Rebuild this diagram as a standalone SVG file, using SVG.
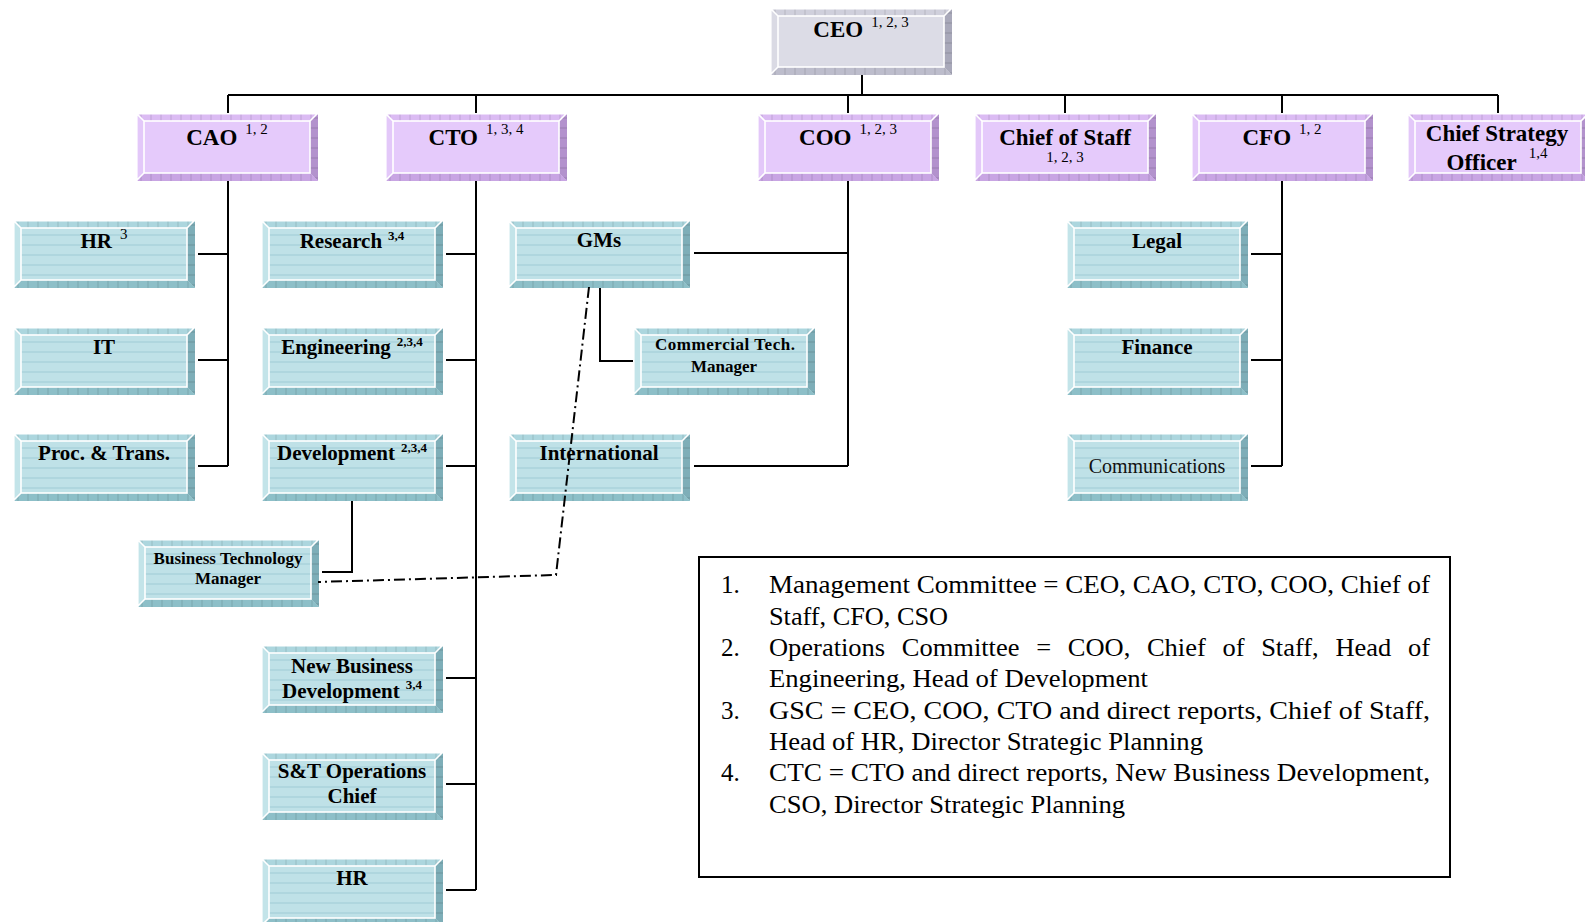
<svg xmlns="http://www.w3.org/2000/svg" xmlns:xlink="http://www.w3.org/1999/xlink" width="1585" height="922" viewBox="0 0 1585 922">
<style>
  .t1 { font-family: "Liberation Serif", "Times New Roman", serif; font-weight: bold; font-size: 23px; fill: #000; }
  .t2 { font-family: "Liberation Serif", "Times New Roman", serif; font-weight: bold; font-size: 21px; fill: #000; }
  .t3 { font-family: "Liberation Serif", "Times New Roman", serif; font-weight: bold; font-size: 17px; fill: #000; }
  .tr { font-family: "Liberation Serif", "Times New Roman", serif; font-size: 20px; fill: #111; }
  .s1 { font-weight: normal; font-size: 15px; }
  .s2 { font-weight: bold; font-size: 13px; }
  .lg { font-family: "Liberation Serif", "Times New Roman", serif; font-size: 25px; fill: #000; }
  .conn { stroke: #000; stroke-width: 2; fill: none; }
  .dd { stroke: #000; stroke-width: 2; fill: none; stroke-dasharray: 11 4 2 4; }
  .hl { stroke: #fff; stroke-width: 1.6; fill: none; }
</style>
<defs>
  <pattern id="stripes" patternUnits="userSpaceOnUse" width="10" height="10">
    <rect width="10" height="10" fill="#bfe1e7"/>
    <line x1="0" y1="5" x2="10" y2="5" stroke="#9fcbd5" stroke-width="1"/>
  </pattern>
  <pattern id="vt" patternUnits="userSpaceOnUse" width="10" height="10">
    <line x1="5" y1="0" x2="5" y2="10" stroke="#000" stroke-opacity="0.12" stroke-width="1"/>
  </pattern>
  <pattern id="ht" patternUnits="userSpaceOnUse" width="10" height="10">
    <line x1="0" y1="5" x2="10" y2="5" stroke="#000" stroke-opacity="0.15" stroke-width="1"/>
  </pattern>
  <g id="box-teal">
    <rect width="182" height="68" fill="#bfe1e7"/>
    <rect x="8" y="8" width="166" height="52" fill="url(#stripes)"/>
    <polygon points="0,0 182,0 174,8 8,8" fill="#acd6de"/>
    <polygon points="0,0 182,0 174,8 8,8" fill="url(#vt)"/>
    <polygon points="0,0 8,8 8,60 0,68" fill="#c3e4e9"/>
    <polygon points="182,0 182,68 174,60 174,8" fill="#7eaeb8"/>
    <polygon points="182,0 182,68 174,60 174,8" fill="url(#ht)"/>
    <polygon points="0,68 8,60 174,60 182,68" fill="#8dbfc8"/>
    <polygon points="0,68 8,60 174,60 182,68" fill="url(#vt)"/>
    <rect x="8" y="8" width="166" height="52" class="hl"/>
    <path d="M0.8,68 V0.8 H182 M0,0 L8,8 M0,68 L8,60 M182,0 L174,8" class="hl"/>
  </g>
  <g id="box-purple">
    <rect width="182" height="68" fill="#e5cafb"/>
    <polygon points="0,0 182,0 174,8 8,8" fill="#dbbbf3"/>
    <polygon points="0,0 182,0 174,8 8,8" fill="url(#vt)"/>
    <polygon points="0,0 8,8 8,60 0,68" fill="#e3c8f9"/>
    <polygon points="182,0 182,68 174,60 174,8" fill="#b392cd"/>
    <polygon points="182,0 182,68 174,60 174,8" fill="url(#ht)"/>
    <polygon points="0,68 8,60 174,60 182,68" fill="#c8a5e3"/>
    <polygon points="0,68 8,60 174,60 182,68" fill="url(#vt)"/>
    <rect x="8" y="8" width="166" height="52" class="hl"/>
    <path d="M0.8,68 V0.8 H182 M0,0 L8,8 M0,68 L8,60 M182,0 L174,8" class="hl"/>
  </g>
  <g id="box-gray">
    <rect width="182" height="67" fill="#dcdce6"/>
    <polygon points="0,0 182,0 174,8 8,8" fill="#d0d0dc"/>
    <polygon points="0,0 182,0 174,8 8,8" fill="url(#vt)"/>
    <polygon points="0,0 8,8 8,59 0,67" fill="#dadae4"/>
    <polygon points="182,0 182,67 174,59 174,8" fill="#a9a9ba"/>
    <polygon points="182,0 182,67 174,59 174,8" fill="url(#ht)"/>
    <polygon points="0,67 8,59 174,59 182,67" fill="#bdbdcc"/>
    <polygon points="0,67 8,59 174,59 182,67" fill="url(#vt)"/>
    <rect x="8" y="8" width="166" height="51" class="hl"/>
    <path d="M0.8,67 V0.8 H182 M0,0 L8,8 M0,67 L8,59 M182,0 L174,8" class="hl"/>
  </g>
</defs>

<rect width="1585" height="922" fill="#fff"/>

<g id="ceo">
  <use xlink:href="#box-gray" x="770" y="8"/>
  <text class="t1" x="861" y="37" text-anchor="middle">CEO<tspan class="s1" dx="8" dy="-10">1, 2, 3</tspan></text>
</g>
<g id="cao">
  <use xlink:href="#box-purple" x="136" y="113"/>
  <text class="t1" x="227" y="145" text-anchor="middle">CAO<tspan class="s1" dx="8" dy="-11">1, 2</tspan></text>
</g>
<g id="cto">
  <use xlink:href="#box-purple" x="385" y="113"/>
  <text class="t1" x="476" y="145" text-anchor="middle">CTO<tspan class="s1" dx="8" dy="-11">1, 3, 4</tspan></text>
</g>
<g id="coo">
  <use xlink:href="#box-purple" x="757" y="113"/>
  <text class="t1" x="848" y="145" text-anchor="middle">COO<tspan class="s1" dx="8" dy="-11">1, 2, 3</tspan></text>
</g>
<g id="chief-of-staff">
  <use xlink:href="#box-purple" x="974" y="113"/>
  <text class="t1" x="1065" y="145" text-anchor="middle">Chief of Staff</text>
  <text class="t1 s1" x="1065" y="162" text-anchor="middle">1, 2, 3</text>
</g>
<g id="cfo">
  <use xlink:href="#box-purple" x="1191" y="113"/>
  <text class="t1" x="1282" y="145" text-anchor="middle">CFO<tspan class="s1" dx="8" dy="-11">1, 2</tspan></text>
</g>
<g id="cso">
  <use xlink:href="#box-purple" x="1407" y="113"/>
  <text class="t1" x="1497" y="141" text-anchor="middle">Chief Strategy</text>
  <text class="t1" x="1497" y="170" text-anchor="middle">Officer<tspan class="s1" dx="12" dy="-12">1,4</tspan></text>
</g>

<g id="hr-a">
  <use xlink:href="#box-teal" x="13" y="220"/>
  <text class="t2" x="104" y="248" text-anchor="middle">HR<tspan class="s1" dx="8" dy="-9">3</tspan></text>
</g>
<g id="it">
  <use xlink:href="#box-teal" x="13" y="327"/>
  <text class="t2" x="104" y="354" text-anchor="middle">IT</text>
</g>
<g id="proc-trans">
  <use xlink:href="#box-teal" x="13" y="433"/>
  <text class="t2" x="104" y="460" text-anchor="middle">Proc. &amp; Trans.</text>
</g>

<g id="research">
  <use xlink:href="#box-teal" x="261" y="220"/>
  <text class="t2" x="352" y="248" text-anchor="middle">Research<tspan class="s2" dx="6" dy="-8">3,4</tspan></text>
</g>
<g id="engineering">
  <use xlink:href="#box-teal" x="261" y="327"/>
  <text class="t2" x="352" y="354" text-anchor="middle">Engineering<tspan class="s2" dx="6" dy="-8">2,3,4</tspan></text>
</g>
<g id="development">
  <use xlink:href="#box-teal" x="261" y="433"/>
  <text class="t2" x="352" y="460" text-anchor="middle">Development<tspan class="s2" dx="6" dy="-8">2,3,4</tspan></text>
</g>
<g id="business-tech-manager">
  <use xlink:href="#box-teal" x="137" y="539"/>
  <text class="t3" x="228" y="564" text-anchor="middle">Business Technology</text>
  <text class="t3" x="228" y="584" text-anchor="middle">Manager</text>
</g>
<g id="new-business">
  <use xlink:href="#box-teal" x="261" y="645"/>
  <text class="t2" x="352" y="673" text-anchor="middle">New Business</text>
  <text class="t2" x="352" y="698" text-anchor="middle">Development<tspan class="s2" dx="6" dy="-9">3,4</tspan></text>
</g>
<g id="st-operations">
  <use xlink:href="#box-teal" x="261" y="752"/>
  <text class="t2" x="352" y="778" text-anchor="middle">S&amp;T Operations</text>
  <text class="t2" x="352" y="803" text-anchor="middle">Chief</text>
</g>
<g id="hr-b">
  <use xlink:href="#box-teal" x="261" y="858"/>
  <text class="t2" x="352" y="885" text-anchor="middle">HR</text>
</g>

<g id="gms">
  <use xlink:href="#box-teal" x="508" y="220"/>
  <text class="t2" x="599" y="247" text-anchor="middle">GMs</text>
</g>
<g id="commercial-tech-manager">
  <use xlink:href="#box-teal" x="633" y="327"/>
  <text class="t3" x="725" y="350" text-anchor="middle" textLength="140" lengthAdjust="spacing">Commercial  Tech.</text>
  <text class="t3" x="724" y="372" text-anchor="middle">Manager</text>
</g>
<g id="international">
  <use xlink:href="#box-teal" x="508" y="433"/>
  <text class="t2" x="599" y="460" text-anchor="middle">International</text>
</g>

<g id="legal">
  <use xlink:href="#box-teal" x="1066" y="220"/>
  <text class="t2" x="1157" y="248" text-anchor="middle">Legal</text>
</g>
<g id="finance">
  <use xlink:href="#box-teal" x="1066" y="327"/>
  <text class="t2" x="1157" y="354" text-anchor="middle">Finance</text>
</g>
<g id="communications">
  <use xlink:href="#box-teal" x="1066" y="433"/>
  <text class="tr" x="1157" y="473" text-anchor="middle">Communications</text>
</g>

<g id="connectors">
  <path class="conn" d="M862,75 V95 M228,95 H1498 M228,95 V113 M476,95 V113 M848,95 V113 M1065,95 V113 M1282,95 V113 M1498,95 V113"/>
  <path class="conn" d="M228,181 V466 M198,254 H228 M198,360 H228 M198,466 H228"/>
  <path class="conn" d="M476,181 V890 M446,254 H476 M446,360 H476 M446,466 H476 M446,678 H476 M446,784 H476 M446,890 H476"/>
  <path class="conn" d="M352,501 V572 H322"/>
  <path class="conn" d="M848,181 V466 M694,253 H848 M694,466 H848"/>
  <path class="conn" d="M600,288 V361 H633"/>
  <path class="conn" d="M1282,181 V466 M1251,254 H1282 M1251,360 H1282 M1251,466 H1282"/>
  <path class="dd" d="M589,287 L556,575 L318,582"/>
</g>

<g id="legend">
  <rect x="699" y="557" width="751" height="320" fill="#fff" stroke="#000" stroke-width="2"/>
  <text class="lg" x="721" y="593">1.</text>
  <text class="lg" x="769" y="593" textLength="661" lengthAdjust="spacingAndGlyphs">Management Committee = CEO, CAO, CTO, COO, Chief of</text>
  <text class="lg" x="769" y="625" textLength="179" lengthAdjust="spacingAndGlyphs">Staff, CFO, CSO</text>
  <text class="lg" x="721" y="656">2.</text>
  <text class="lg" x="769" y="656" word-spacing="9.5" textLength="661" lengthAdjust="spacingAndGlyphs">Operations Committee = COO, Chief of Staff, Head of</text>
  <text class="lg" x="769" y="687" textLength="379" lengthAdjust="spacingAndGlyphs">Engineering, Head of Development</text>
  <text class="lg" x="721" y="719">3.</text>
  <text class="lg" x="769" y="719" textLength="661" lengthAdjust="spacingAndGlyphs">GSC = CEO, COO, CTO and direct reports, Chief of Staff,</text>
  <text class="lg" x="769" y="750" textLength="434" lengthAdjust="spacingAndGlyphs">Head of HR, Director Strategic Planning</text>
  <text class="lg" x="721" y="781">4.</text>
  <text class="lg" x="769" y="781" textLength="661" lengthAdjust="spacingAndGlyphs">CTC = CTO and direct reports, New Business Development,</text>
  <text class="lg" x="769" y="813" textLength="356" lengthAdjust="spacingAndGlyphs">CSO, Director Strategic Planning</text>
</g>
</svg>
